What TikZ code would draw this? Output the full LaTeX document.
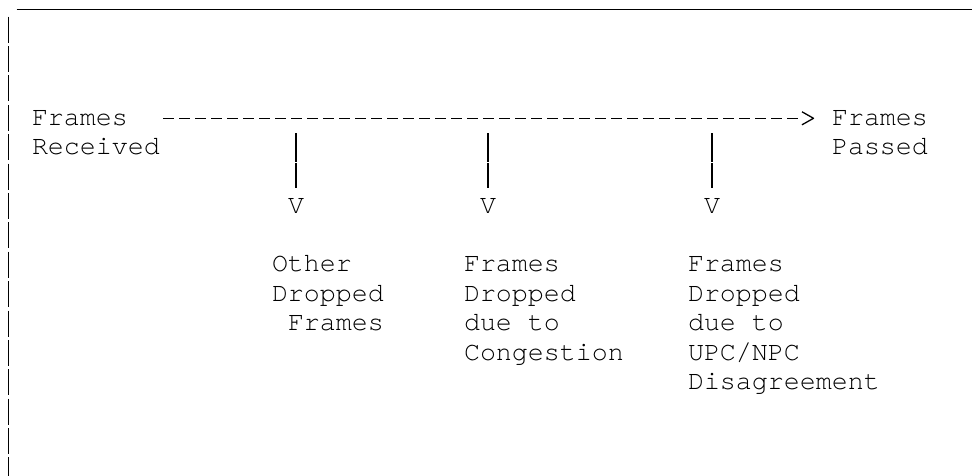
\documentclass[tikz,border=0pt]{standalone}
\usepackage{fontspec}
\newfontfamily\asciifont{TeX Gyre Cursor}
\usetikzlibrary{arrows.meta}
\pgfdeclarearrow{
  name = asciitip,
  setup code = {
    \pgfarrowssettipend{0pt}
    \pgfarrowssetlineend{-15.2pt}
    \pgfarrowssetbackend{-11.5pt}
    \pgfarrowshullpoint{0pt}{0pt}
    \pgfarrowshullpoint{-11.5pt}{6.5pt}
    \pgfarrowshullpoint{-11.5pt}{-6.5pt}
  },
  drawing code = {
    \pgfsetdash{}{0pt}
    \pgfsetroundjoin
    \pgfpathmoveto{\pgfpoint{-11.5pt}{6.5pt}}
    \pgfpathlineto{\pgfpoint{0pt}{0pt}}
    \pgfpathlineto{\pgfpoint{-11.5pt}{-6.5pt}}
    \pgfusepathqstroke
  }
}
\tikzset{
  lbl/.style={anchor=north west, inner sep=0pt, outer sep=0pt, align=left,
    font=\asciifont\fontsize{26.66}{29.38}\selectfont},
  flow/.style={line width=1.3pt, dash pattern=on 11pt off 5pt, -{asciitip},
    shorten <=3.3pt, shorten >=18.5pt},
  drop/.style={line width=1.3pt, dash pattern=on 28.4pt off 1.6pt, shorten >=4.3pt},
  border/.style={line width=1.4pt, dash pattern=on 26pt off 3.38pt},
  topline/.style={line width=1.3pt}
}
\begin{document}
\begin{tikzpicture}[x=1pt, y=-1pt]
\useasboundingbox (0,0) rectangle (972,476);
% frame (top rule and left rule)
\draw[topline] (16.7,9.3) -- (975,9.3);
\draw[border] (8.3,16.7) -- (8.3,490);
% labels
\node[lbl] (recv)   at (32,104.47)  {\strut Frames\\\strut Received};
\node[lbl] (passed) at (832,104.47) {\strut Frames\\\strut Passed};
\node[lbl] (v1) at (288,192.61) {\strut V};
\node[lbl] (v2) at (480,192.61) {\strut V};
\node[lbl] (v3) at (704,192.61) {\strut V};
\node[lbl] (other) at (272,251.37) {\strut Other\\\strut Dropped\\\strut\hspace*{16pt}Frames};
\node[lbl] (cong)  at (464,251.37) {\strut Frames\\\strut Dropped\\\strut due to\\\strut Congestion};
\node[lbl] (upc)   at (688,251.37) {\strut Frames\\\strut Dropped\\\strut due to\\\strut UPC/NPC\\\strut Disagreement};
% connectors
\coordinate (dashy) at (0,118.3);
\coordinate (tapy) at (0,133.3);
\draw[flow] (recv.north east |- dashy) -- (passed.north west |- dashy);
\draw[drop] (v1.north |- tapy) -- (v1.north);
\draw[drop] (v2.north |- tapy) -- (v2.north);
\draw[drop] (v3.north |- tapy) -- (v3.north);
\end{tikzpicture}
\end{document}
